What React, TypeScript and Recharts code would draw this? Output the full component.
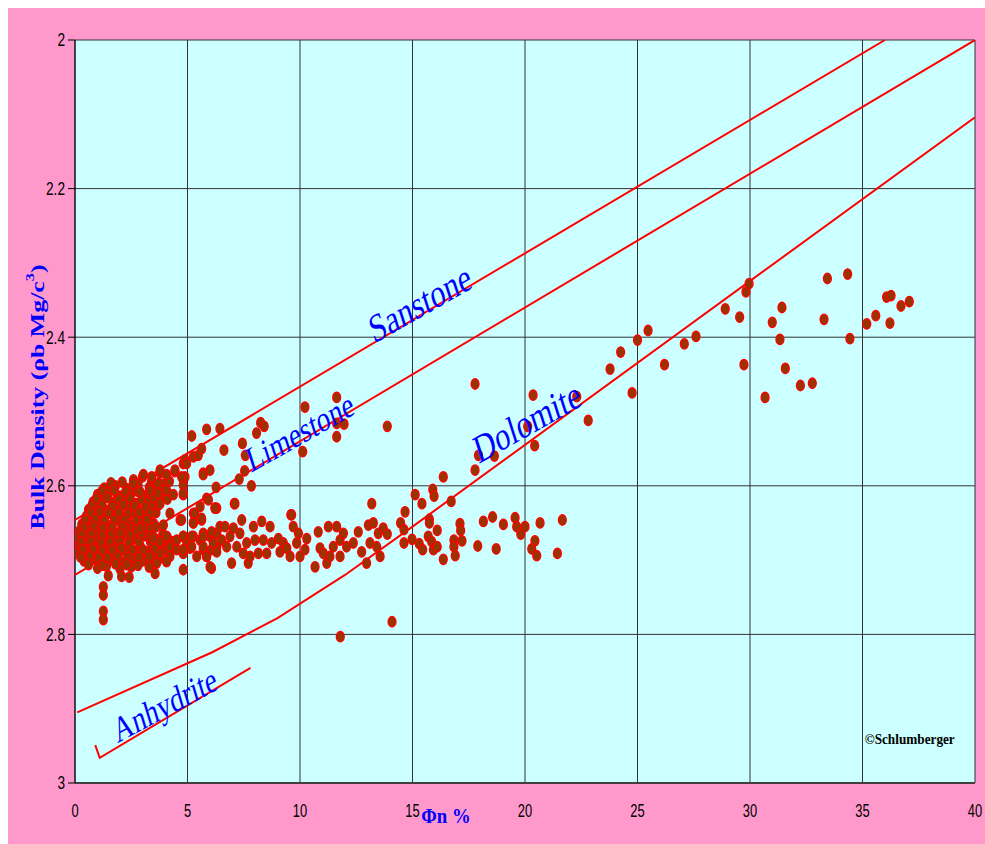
import React from "react";
import {
  ScatterChart,
  Scatter,
  XAxis,
  YAxis,
  CartesianGrid,
  ReferenceDot,
} from "recharts";

// ---- axis ticks ----
const xTicks = [0, 5, 10, 15, 20, 25, 30, 35, 40];
const yTicks = [2, 2.2, 2.4, 2.6, 2.8, 3];

// ---- lithology lines [phi %, bulk density] ----
const sandstoneLine: number[][] = [[0, 2.646], [36, 2.0]];
const limestoneLine: number[][] = [[0, 2.72], [40, 2.0]];
const dolomiteLine: number[][] = [[0.1, 2.905], [6.1, 2.824], [9, 2.778], [12, 2.72], [15, 2.655], [40, 2.104]];
const anhydriteLine: number[][] = [[0.9, 2.949], [1.1, 2.966], [7.8, 2.845]];

// ---- measured points [phi %, bulk density] ----
const clusterPoints: number[][] = [
  [2.6, 2.592], [3.0, 2.588], [3.4, 2.595],
  [1.3, 2.603], [1.8, 2.6], [2.3, 2.604], [2.8, 2.598], [3.3, 2.602], [3.9, 2.598],
  [1.0, 2.612], [1.5, 2.609], [2.0, 2.614], [2.5, 2.61], [3.0, 2.613], [3.6, 2.608],
  [0.8, 2.622], [1.2, 2.619], [1.7, 2.623], [2.2, 2.618], [2.7, 2.624], [3.2, 2.621], [3.8, 2.617],
  [0.6, 2.632], [1.0, 2.629], [1.4, 2.633], [1.9, 2.628], [2.4, 2.631], [2.9, 2.634], [3.4, 2.628],
  [0.5, 2.641], [0.9, 2.638], [1.3, 2.643], [1.7, 2.639], [2.1, 2.642], [2.6, 2.638], [3.1, 2.641], [3.6, 2.636],
  [0.3, 2.652], [0.7, 2.648], [1.1, 2.651], [1.5, 2.654], [2.0, 2.649], [2.4, 2.652], [2.9, 2.648], [3.5, 2.651],
  [0.2, 2.661], [0.6, 2.658], [1.0, 2.662], [1.4, 2.659], [1.8, 2.663], [2.3, 2.658], [2.8, 2.661], [3.3, 2.657],
  [0.1, 2.671], [0.5, 2.668], [0.9, 2.672], [1.3, 2.669], [1.7, 2.673], [2.1, 2.668], [2.6, 2.671], [3.1, 2.667], [3.6, 2.672], [4.1, 2.669],
  [0.2, 2.681], [0.6, 2.678], [1.0, 2.682], [1.5, 2.679], [1.9, 2.683], [2.4, 2.678], [2.9, 2.681], [3.4, 2.684], [3.9, 2.679], [4.4, 2.682],
  [0.1, 2.691], [0.5, 2.688], [0.9, 2.692], [1.3, 2.689], [1.8, 2.693], [2.2, 2.688], [2.7, 2.691], [3.2, 2.694], [3.7, 2.689], [4.2, 2.692],
  [0.4, 2.701], [0.8, 2.698], [1.2, 2.702], [1.6, 2.699], [2.1, 2.703], [2.6, 2.698], [3.0, 2.701], [3.5, 2.699],
  [1.0, 2.711], [1.4, 2.708], [2.0, 2.712], [2.5, 2.709], [3.3, 2.709],
  [1.48, 2.721], [2.07, 2.722], [2.41, 2.723], [3.56, 2.718],
  [1.26, 2.736], [1.26, 2.747], [1.26, 2.769], [1.26, 2.78],
];

const clusterFillPoints: number[][] = [
  [1.6, 2.596], [2.1, 2.595], [3.7, 2.597], [4.2, 2.594],
  [1.2, 2.607], [1.75, 2.606], [2.25, 2.608], [2.75, 2.607], [3.3, 2.609], [3.9, 2.606],
  [0.95, 2.617], [1.45, 2.616], [1.95, 2.618], [2.45, 2.617], [2.95, 2.619], [3.5, 2.616], [4.1, 2.618],
  [0.75, 2.627], [1.2, 2.626], [1.65, 2.628], [2.15, 2.626], [2.65, 2.627], [3.15, 2.629], [3.7, 2.626],
  [0.7, 2.636], [1.1, 2.635], [1.5, 2.637], [1.95, 2.636], [2.35, 2.638], [2.85, 2.636], [3.35, 2.637],
  [0.45, 2.646], [0.9, 2.645], [1.3, 2.647], [1.75, 2.646], [2.2, 2.645], [2.7, 2.647], [3.2, 2.646],
  [0.4, 2.656], [0.85, 2.655], [1.25, 2.657], [1.65, 2.656], [2.1, 2.655], [2.55, 2.657], [3.05, 2.656], [3.6, 2.655],
  [0.3, 2.666], [0.75, 2.665], [1.2, 2.667], [1.6, 2.666], [2.0, 2.664], [2.45, 2.666], [2.95, 2.665], [3.45, 2.667], [3.9, 2.665],
  [0.3, 2.676], [0.7, 2.675], [1.15, 2.677], [1.55, 2.676], [2.0, 2.675], [2.4, 2.677], [2.85, 2.676], [3.35, 2.675], [3.8, 2.677], [4.3, 2.675],
  [0.35, 2.686], [0.8, 2.685], [1.2, 2.687], [1.65, 2.686], [2.05, 2.684], [2.55, 2.686], [3.05, 2.687], [3.55, 2.685], [4.05, 2.686],
  [0.25, 2.696], [0.65, 2.695], [1.05, 2.697], [1.45, 2.696], [1.9, 2.695], [2.35, 2.697], [2.85, 2.696], [3.3, 2.695], [3.8, 2.697],
  [0.6, 2.706], [1.2, 2.707], [1.8, 2.705], [2.3, 2.706], [2.8, 2.707],
];

const upperClusterPoints: number[][] = [
  [2.59, 2.597], [3.04, 2.585], [3.41, 2.588], [3.78, 2.583], [4.07, 2.585], [4.44, 2.581],
  [4.81, 2.59], [4.81, 2.599], [4.81, 2.612], [5.7, 2.583], [2.89, 2.608], [3.33, 2.606],
  [3.7, 2.61], [4.07, 2.606], [4.37, 2.612], [3.78, 2.624], [4.22, 2.637], [4.67, 2.646],
  [3.93, 2.653], [2.74, 2.659], [2.89, 2.657], [3.33, 2.669], [5.26, 2.637], [5.63, 2.646],
  [5.85, 2.617], [6.3, 2.63], [5.26, 2.65], [4.74, 2.646], [3.78, 2.579], [4.44, 2.579],
  [4.81, 2.57], [4.89, 2.588], [4.89, 2.565], [4.96, 2.57], [5.26, 2.561], [5.48, 2.559], [5.63, 2.55],
];

const scatteredPoints: number[][] = [
  [6.44, 2.523], [6.62, 2.552], [6.0, 2.579], [6.27, 2.602], [6.22, 2.63], [7.08, 2.624],
  [7.44, 2.543], [7.57, 2.559], [8.07, 2.529], [8.25, 2.515], [8.41, 2.52], [7.54, 2.58],
  [7.3, 2.591], [7.84, 2.6], [9.59, 2.639], [5.19, 2.533], [5.85, 2.524], [5.93, 2.619],
  [4.74, 2.588], [4.81, 2.61], [5.7, 2.585], [10.12, 2.554], [10.22, 2.494], [11.63, 2.481],
  [11.63, 2.516], [11.63, 2.534], [11.96, 2.517], [11.79, 2.803], [14.09, 2.783],
];

const lowerBandPoints: number[][] = [
  [3.48, 2.671], [3.78, 2.675], [4.07, 2.668], [4.22, 2.682], [4.52, 2.673], [4.81, 2.668],
  [4.96, 2.675], [5.11, 2.684], [5.26, 2.668], [5.56, 2.673], [5.7, 2.664], [5.85, 2.695],
  [6.0, 2.668], [6.07, 2.686], [6.3, 2.664], [6.3, 2.682], [3.78, 2.691], [4.22, 2.695],
  [4.52, 2.686], [4.81, 2.691], [5.41, 2.695], [5.7, 2.686], [3.63, 2.704], [4.07, 2.702],
  [3.3, 2.709], [4.81, 2.713], [6.07, 2.711],
  [4.81, 2.668], [4.81, 2.686], [5.19, 2.668], [5.19, 2.682], [5.26, 2.65], [5.33, 2.637],
  [5.56, 2.628], [5.63, 2.644], [5.7, 2.668], [5.7, 2.682], [5.85, 2.695], [6.0, 2.709],
  [6.07, 2.662], [6.15, 2.677], [6.22, 2.63], [6.3, 2.689], [6.44, 2.655], [6.52, 2.673],
  [6.67, 2.655], [6.74, 2.682], [6.89, 2.668], [6.96, 2.704], [7.04, 2.657], [7.11, 2.624],
  [7.19, 2.682], [7.33, 2.664], [7.41, 2.646], [7.48, 2.691], [7.63, 2.677], [7.7, 2.704],
  [7.78, 2.695], [7.93, 2.655], [8.0, 2.673], [8.15, 2.691], [8.3, 2.648], [8.37, 2.673],
  [8.52, 2.691], [8.67, 2.655], [8.74, 2.677], [9.04, 2.671], [9.11, 2.689], [9.26, 2.677],
  [9.41, 2.684], [9.56, 2.695], [9.63, 2.639], [9.7, 2.655], [9.85, 2.677], [9.93, 2.664],
  [10.0, 2.695], [10.22, 2.686], [10.3, 2.671], [10.67, 2.709], [10.81, 2.662], [10.89, 2.684],
  [11.04, 2.691], [11.19, 2.704], [11.26, 2.655], [11.33, 2.695], [11.48, 2.682], [11.63, 2.655],
  [11.78, 2.673], [11.78, 2.695], [11.93, 2.664], [12.07, 2.682], [12.37, 2.677], [12.59, 2.662],
  [12.74, 2.689], [12.96, 2.704], [13.04, 2.653], [13.11, 2.677], [13.19, 2.624], [13.26, 2.65],
  [13.41, 2.682], [13.48, 2.664], [13.56, 2.695],
];

const midPorosityPoints: number[][] = [
  [17.78, 2.463], [20.36, 2.478], [22.81, 2.512], [13.88, 2.52], [20.12, 2.52], [20.43, 2.546],
  [17.93, 2.559], [18.64, 2.56], [17.78, 2.579], [16.37, 2.588], [15.9, 2.605], [15.96, 2.614],
  [15.12, 2.612], [15.42, 2.624], [16.72, 2.621], [14.67, 2.635], [14.47, 2.65], [15.75, 2.645],
  [15.75, 2.65], [13.7, 2.657], [13.88, 2.665], [14.62, 2.659], [14.62, 2.677], [14.98, 2.672],
  [15.7, 2.668], [16.1, 2.66], [15.3, 2.678], [15.45, 2.686], [15.85, 2.675], [15.93, 2.686],
  [16.1, 2.682], [16.37, 2.699], [16.84, 2.673], [16.84, 2.682], [16.9, 2.694], [17.11, 2.651],
  [17.14, 2.66], [17.2, 2.674], [17.9, 2.681], [18.15, 2.648], [18.56, 2.642], [18.72, 2.685],
  [19.04, 2.652], [19.56, 2.643], [19.63, 2.655], [19.81, 2.665], [20.0, 2.655], [20.44, 2.674],
  [20.3, 2.685], [20.52, 2.694], [20.67, 2.65], [21.44, 2.691], [21.66, 2.646],
];

const highPorosityPoints: number[][] = [
  [22.3, 2.48], [23.78, 2.443], [24.25, 2.42], [24.76, 2.475], [25.0, 2.404], [25.47, 2.391],
  [26.2, 2.437], [27.08, 2.409], [27.6, 2.399], [28.9, 2.362], [29.54, 2.373], [29.73, 2.437],
  [29.82, 2.339], [29.96, 2.328], [30.67, 2.481], [30.99, 2.38], [31.33, 2.403], [31.42, 2.36],
  [31.57, 2.442], [32.24, 2.465], [32.77, 2.462], [33.29, 2.376], [33.44, 2.321], [34.34, 2.315],
  [34.44, 2.402], [35.19, 2.382], [35.59, 2.371], [36.07, 2.346], [36.27, 2.344], [36.22, 2.381],
  [36.71, 2.358], [37.08, 2.352],
];

const toXY = (arr: number[][]) => arr.map(([x, y]) => ({ x, y }));
const allPoints = toXY([
  ...clusterPoints,
  ...clusterFillPoints,
  ...upperClusterPoints,
  ...scatteredPoints,
  ...lowerBandPoints,
  ...midPorosityPoints,
  ...highPorosityPoints,
]);

const RED = "#FF0000";
const BLUE = "#0000FF";
const SERIF = "'Liberation Serif', 'Times New Roman', serif";
const SANS = "'Liberation Sans', Arial, sans-serif";

const Marker = (props: any) => {
  const { cx, cy } = props;
  if (cx == null || cy == null) return <g />;
  return (
    <ellipse cx={cx} cy={cy} rx={3.9} ry={5.2} fill="#993300" stroke={RED} strokeWidth={1.4} />
  );
};

const NoShape = () => <g />;

const XTick = (props: any) => {
  const { x, payload } = props;
  return (
    <text
      transform={`translate(${x},802) scale(0.68,1)`}
      textAnchor="middle"
      dominantBaseline="central"
      fontFamily={SANS}
      fontSize={19}
      fill="#000"
    >
      {payload.value}
    </text>
  );
};

const YTick = (props: any) => {
  const { y, payload } = props;
  return (
    <text
      transform={`translate(57,${y}) scale(0.72,1)`}
      textAnchor="end"
      dominantBaseline="central"
      fontFamily={SANS}
      fontSize={19}
      fill="#000"
    >
      {payload.value}
    </text>
  );
};

const makeLabel = (text: string, fontSize: number, angle: number) => (p: any) => {
  const { cx, cy } = p;
  if (cx == null || cy == null) return <g />;
  return (
    <g transform={`translate(${cx},${cy}) scale(0.75,1) rotate(${-angle})`}>
      <text
        x={0}
        y={0}
        textAnchor="middle"
        dominantBaseline="central"
        fill={BLUE}
        fontFamily={SERIF}
        fontSize={fontSize}
      >
        {text}
      </text>
    </g>
  );
};

const CopyrightShape = (p: any) => {
  const { cx, cy } = p;
  if (cx == null || cy == null) return <g />;
  return (
    <text
      x={cx}
      y={cy}
      dominantBaseline="central"
      fontFamily={SERIF}
      fontWeight="bold"
      fontSize={14}
      textLength={90}
      lengthAdjust="spacingAndGlyphs"
      fill="#000"
    >
      ©Schlumberger
    </text>
  );
};

const YLabel = () => (
  <text
    transform="translate(29,389) rotate(-90)"
    textAnchor="middle"
    dominantBaseline="central"
    fontFamily={SERIF}
    fontWeight="bold"
    fontSize={19}
    fill={BLUE}
    textLength={265}
    lengthAdjust="spacingAndGlyphs"
  >
    Bulk Density (ρb Mg/c
    <tspan baselineShift="super" fontSize={12}>3</tspan>
    <tspan>)</tspan>
  </text>
);

const XLabel = () => (
  <text
    transform="translate(438,807) scale(0.85,1)"
    textAnchor="middle"
    dominantBaseline="central"
    fontFamily={SERIF}
    fontWeight="bold"
    fontSize={22}
    fill={BLUE}
  >
    Φn %
  </text>
);

export default function App() {
  return (
    <div style={{ position: "absolute", left: 8, top: 8, width: 977, height: 836, background: "#FF99CC" }}>
      <ScatterChart
        width={977}
        height={836}
        margin={{ top: 32, right: 10, bottom: 0, left: 0 }}
      >
        <CartesianGrid
          stroke="#333333"
          strokeWidth={1}
          fill="#CCFFFF"
          fillOpacity={1}
          horizontalValues={yTicks}
          verticalValues={xTicks}
        />
        <XAxis
          type="number"
          dataKey="x"
          domain={[0, 40]}
          ticks={xTicks}
          allowDataOverflow
          height={61}
          tickLine={false}
          axisLine={{ stroke: "#404040", strokeWidth: 2 }}
          tick={<XTick />}
          interval={0}
          label={{ content: () => <XLabel /> }}
        />
        <YAxis
          type="number"
          dataKey="y"
          domain={[2, 3]}
          reversed
          ticks={yTicks}
          allowDataOverflow
          width={67}
          tickSize={7}
          tickLine={{ stroke: "#000" }}
          axisLine={{ stroke: "#000" }}
          tick={<YTick />}
          interval={0}
          label={{ content: () => <YLabel /> }}
        />
        <Scatter
          data={toXY(sandstoneLine)}
          line={{ stroke: RED, strokeWidth: 2 }}
          shape={NoShape}
          isAnimationActive={false}
        />
        <Scatter
          data={toXY(limestoneLine)}
          line={{ stroke: RED, strokeWidth: 2 }}
          shape={NoShape}
          isAnimationActive={false}
        />
        <Scatter
          data={toXY(dolomiteLine)}
          line={{ stroke: RED, strokeWidth: 2 }}
          shape={NoShape}
          isAnimationActive={false}
        />
        <Scatter
          data={toXY(anhydriteLine)}
          line={{ stroke: RED, strokeWidth: 2 }}
          shape={NoShape}
          isAnimationActive={false}
        />
        <Scatter data={allPoints} shape={Marker} isAnimationActive={false} />
        <ReferenceDot x={15.33} y={2.354} r={0} ifOverflow="visible" shape={makeLabel("Sanstone", 40, 23)} />
        <ReferenceDot x={10.0} y={2.528} r={0} ifOverflow="visible" shape={makeLabel("Limestone", 36, 23)} />
        <ReferenceDot x={20.09} y={2.514} r={0} ifOverflow="visible" shape={makeLabel("Dolomite", 40, 23)} />
        <ReferenceDot x={4.0} y={2.895} r={0} ifOverflow="visible" shape={makeLabel("Anhydrite", 36, 22)} />
        <ReferenceDot x={35.1} y={2.942} r={0} ifOverflow="visible" shape={CopyrightShape} />
      </ScatterChart>
    </div>
  );
}
